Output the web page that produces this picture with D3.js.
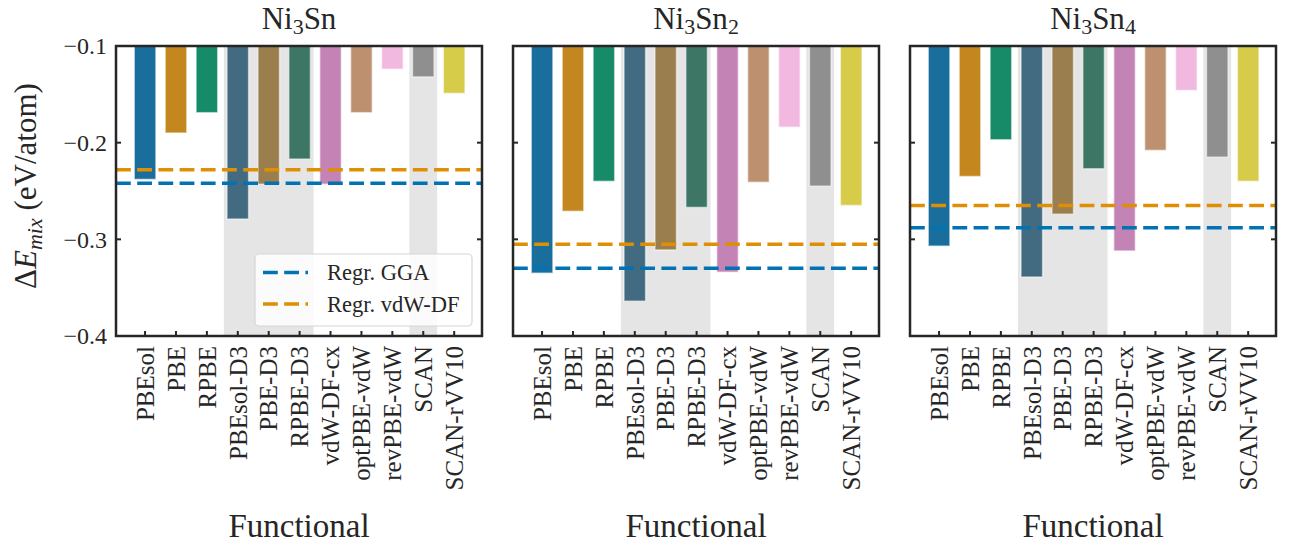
<!DOCTYPE html>
<html>
<head>
<meta charset="utf-8">
<script src="https://cdn.jsdelivr.net/npm/d3@7"></script>
<style>
  html, body { margin: 0; padding: 0; background: #fff; }
</style>
</head>
<body>
<svg id="chart" width="1292" height="547"></svg>
<script>
// Functionals on the x axis
const functionals = ["PBEsol", "PBE", "RPBE", "PBEsol-D3", "PBE-D3", "RPBE-D3",
  "vdW-DF-cx", "optPBE-vdW", "revPBE-vdW", "SCAN", "SCAN-rVV10"];
const barColors = ["#1a6e9c", "#c4871f", "#178a68", "#426a80", "#9a7e4d", "#3d7664",
  "#c383b5", "#bd9170", "#f1b9e0", "#8f8f8f", "#d6cc4a"];

// Mixing energies (eV/atom) per compound
const ni3sn  = [-0.238, -0.190, -0.169, -0.279, -0.243, -0.217, -0.243, -0.169, -0.124, -0.132, -0.149];
const ni3sn2 = [-0.335, -0.271, -0.240, -0.364, -0.311, -0.267, -0.334, -0.241, -0.184, -0.245, -0.265];
const ni3sn4 = [-0.307, -0.235, -0.197, -0.339, -0.274, -0.227, -0.312, -0.208, -0.146, -0.215, -0.240];

// Regression lines: [GGA, vdW-DF]
const regrNi3Sn  = [-0.242, -0.228];
const regrNi3Sn2 = [-0.330, -0.305];
const regrNi3Sn4 = [-0.288, -0.265];

const yTicks = [-0.1, -0.2, -0.3, -0.4];
const yDomain = [-0.4, -0.1];

// Shaded groups (indices of functionals)
const shadedGroups = [[3, 5], [9, 9]];

const panels = [
  { title: ["Ni", "3", "Sn", ""],  values: ni3sn,  regr: regrNi3Sn,  legend: true },
  { title: ["Ni", "3", "Sn", "2"], values: ni3sn2, regr: regrNi3Sn2, legend: false },
  { title: ["Ni", "3", "Sn", "4"], values: ni3sn4, regr: regrNi3Sn4, legend: false }
];
const regrNames = ["Regr. GGA", "Regr. vdW-DF"];
const regrColors = ["#0173b2", "#de8f05"];

const serif = "'Liberation Serif', 'Times New Roman', Times, 'DejaVu Serif', serif";
const svg = d3.select("#chart")
  .attr("font-family", serif);
const plotTop = 46, plotH = 290, plotW = 366;
const lefts = [116, 513, 910];
const ink = "#262626";

const y = d3.scaleLinear().domain(yDomain).range([plotTop + plotH, plotTop]);

function txt(sel) {
  return sel.append("text").attr("font-family", serif).attr("fill", ink);
}

panels.forEach((p, pi) => {
  const left = lefts[pi];
  const x = d3.scaleLinear().domain([-0.94, 10.9]).range([left, left + plotW]);
  const g = svg.append("g");
  const clipId = "clip" + pi;
  svg.append("clipPath").attr("id", clipId)
    .append("rect").attr("x", left).attr("y", plotTop).attr("width", plotW).attr("height", plotH);
  const inner = g.append("g").attr("clip-path", `url(#${clipId})`);

  // grey background spans
  inner.selectAll("rect.span").data(shadedGroups).join("rect")
    .attr("x", d => x(d[0] - 0.45))
    .attr("width", d => x(d[1] + 0.45) - x(d[0] - 0.45))
    .attr("y", plotTop).attr("height", plotH)
    .attr("fill", "#e5e5e5");

  // bars hang from the top of the axis down to the value
  inner.selectAll("rect.bar").data(p.values).join("rect")
    .attr("x", (d, i) => x(i - 0.35))
    .attr("width", x(0.35) - x(-0.35))
    .attr("y", y(yDomain[1]) - 2)
    .attr("height", d => y(d) - y(yDomain[1]) + 2)
    .attr("fill", (d, i) => barColors[i])
    .attr("stroke", "rgba(255,255,255,0.55)")
    .attr("stroke-width", 1.5);

  // regression lines
  p.regr.forEach((v, ri) => {
    inner.append("line")
      .attr("x1", left).attr("x2", left + plotW)
      .attr("y1", y(v)).attr("y2", y(v))
      .attr("stroke", regrColors[ri]).attr("stroke-width", 3.5)
      .attr("stroke-dasharray", "14.8,6.4");
  });

  // frame
  g.append("rect").attr("x", left).attr("y", plotTop).attr("width", plotW).attr("height", plotH)
    .attr("fill", "none").attr("stroke", ink).attr("stroke-width", 2.5);

  // x ticks (inward) and rotated labels
  functionals.forEach((f, i) => {
    g.append("line").attr("x1", x(i)).attr("x2", x(i))
      .attr("y1", plotTop + plotH).attr("y2", plotTop + plotH - 5)
      .attr("stroke", ink).attr("stroke-width", 2);
    txt(g)
      .attr("transform", `translate(${x(i)},${plotTop + plotH + 10}) rotate(-90)`)
      .attr("text-anchor", "end").attr("dy", "0.35em")
      .attr("font-size", 25).text(f);
  });

  // y ticks on both sides (inward)
  yTicks.forEach(t => {
    g.append("line").attr("x1", left).attr("x2", left + 5)
      .attr("y1", y(t)).attr("y2", y(t)).attr("stroke", ink).attr("stroke-width", 2);
    g.append("line").attr("x1", left + plotW).attr("x2", left + plotW - 5)
      .attr("y1", y(t)).attr("y2", y(t)).attr("stroke", ink).attr("stroke-width", 2);
    if (pi === 0) {
      txt(g).attr("x", left - 9).attr("y", y(t)).attr("dy", "0.35em")
        .attr("text-anchor", "end").attr("font-size", 24)
        .text("\u2212" + Math.abs(t).toFixed(1));
    }
  });

  // title
  const tt = txt(g).attr("x", left + plotW / 2).attr("y", 29)
    .attr("text-anchor", "middle").attr("font-size", 31);
  tt.append("tspan").text(p.title[0]);
  tt.append("tspan").attr("font-size", 22).attr("dy", 5).text(p.title[1]);
  tt.append("tspan").attr("dy", -5).text(p.title[2]);
  if (p.title[3]) tt.append("tspan").attr("font-size", 22).attr("dy", 5).text(p.title[3]);

  // x axis label
  txt(g).attr("x", left + plotW / 2).attr("y", 537)
    .attr("text-anchor", "middle").attr("font-size", 33).text("Functional");

  // legend
  if (p.legend) {
    const lg = g.append("g");
    lg.append("rect").attr("x", 255).attr("y", 254).attr("width", 217).attr("height", 72)
      .attr("rx", 4).attr("fill", "rgba(255,255,255,0.85)")
      .attr("stroke", "#d6d6d6").attr("stroke-width", 1.2);
    regrNames.forEach((n, ri) => {
      const ly = 272.5 + ri * 31.5;
      lg.append("line").attr("x1", 263).attr("x2", 308).attr("y1", ly).attr("y2", ly)
        .attr("stroke", regrColors[ri]).attr("stroke-width", 3.5)
        .attr("stroke-dasharray", "14.8,6.4");
      txt(lg).attr("x", 327).attr("y", ly).attr("dy", "0.35em")
        .attr("font-size", 22.5).text(n);
    });
  }
});

// y axis label
const yl = txt(svg)
  .attr("transform", `translate(36,186) rotate(-90)`)
  .attr("text-anchor", "middle").attr("font-size", 31);
yl.append("tspan").text("\u0394");
yl.append("tspan").attr("font-style", "italic").text("E");
yl.append("tspan").attr("font-style", "italic").attr("font-size", 22).attr("dy", 6).text("mix");
yl.append("tspan").attr("dy", -6).text(" (eV/atom)");
</script>
</body>
</html>
